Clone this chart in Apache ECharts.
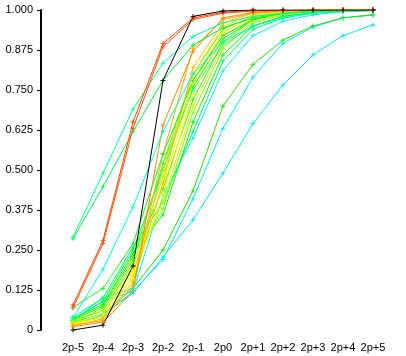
<!DOCTYPE html>
<html><head><meta charset="utf-8">
<script src="https://cdn.jsdelivr.net/npm/echarts@6/dist/echarts.min.js"></script>
<style>html,body{margin:0;padding:0;background:#fff}#c{width:406px;height:356px}</style>
</head><body><div id="c"></div>
<script>
const categories = ['2p-5','2p-4','2p-3','2p-2','2p-1','2p0','2p+1','2p+2','2p+3','2p+4','2p+5'];

const black  = [0.000, 0.015, 0.20, 0.78, 0.980, 0.997, 1.000, 1.000, 1.000, 1.000, 1.000];
const red1   = [0.078, 0.280, 0.65, 0.895, 0.975, 0.993, 0.998, 1.000, 1.000, 1.000, 1.000];
const red2   = [0.069, 0.270, 0.63, 0.885, 0.970, 0.990, 0.997, 0.999, 1.000, 1.000, 1.000];
const teal1  = [0.290, 0.490, 0.69, 0.834, 0.917, 0.960, 0.980, 0.990, 0.995, 0.998, 0.999];
const green1 = [0.285, 0.448, 0.62, 0.780, 0.890, 0.945, 0.975, 0.990, 0.995, 0.998, 0.999];
const cyan3  = [0.038, 0.190, 0.385, 0.620, 0.800, 0.900, 0.950, 0.975, 0.990, 0.995, 0.998];
const green3 = [0.070, 0.130, 0.27, 0.550, 0.780, 0.920, 0.970, 0.990, 0.996, 0.999, 1.000];
const b1  = [0.010, 0.025, 0.12, 0.64, 0.87, 0.975, 0.993, 0.998, 1, 1, 1];
const b2  = [0.015, 0.030, 0.14, 0.55, 0.88, 0.970, 0.990, 0.997, 0.999, 1, 1];
const b3  = [0.012, 0.035, 0.15, 0.46, 0.82, 0.960, 0.990, 0.997, 0.999, 1, 1];
const b4  = [0.020, 0.040, 0.17, 0.50, 0.80, 0.950, 0.985, 0.995, 0.998, 1, 1];
const b5  = [0.015, 0.040, 0.16, 0.42, 0.74, 0.920, 0.975, 0.990, 0.997, 0.999, 1];
const b6  = [0.020, 0.050, 0.18, 0.45, 0.77, 0.930, 0.980, 0.993, 0.998, 1, 1];
const b7  = [0.020, 0.050, 0.19, 0.40, 0.70, 0.890, 0.965, 0.988, 0.996, 0.999, 1];
const b8  = [0.025, 0.060, 0.20, 0.48, 0.78, 0.930, 0.980, 0.994, 0.998, 1, 1];
const b9  = [0.030, 0.060, 0.21, 0.38, 0.68, 0.880, 0.960, 0.985, 0.995, 0.998, 1];
const b10 = [0.020, 0.070, 0.22, 0.52, 0.80, 0.940, 0.980, 0.994, 0.998, 1, 1];
const b11 = [0.030, 0.075, 0.23, 0.44, 0.72, 0.900, 0.970, 0.990, 0.997, 0.999, 1];
const b12 = [0.035, 0.080, 0.24, 0.36, 0.65, 0.860, 0.950, 0.980, 0.993, 0.998, 1];
const b13 = [0.030, 0.090, 0.25, 0.50, 0.76, 0.910, 0.970, 0.990, 0.997, 0.999, 1];
const b14 = [0.040, 0.100, 0.26, 0.40, 0.62, 0.840, 0.940, 0.975, 0.990, 0.996, 0.999];
const b15 = [0.030, 0.100, 0.13, 0.52, 0.75, 0.890, 0.950, 0.980, 0.990, 0.996, 0.999];
const b16 = [0.035, 0.090, 0.12, 0.42, 0.60, 0.810, 0.920, 0.965, 0.985, 0.995, 0.998];
const green2 = [0.020, 0.050, 0.13, 0.25, 0.435, 0.700, 0.830, 0.906, 0.950, 0.976, 0.985];
const cyan2  = [0.020, 0.045, 0.12, 0.22, 0.410, 0.630, 0.790, 0.896, 0.947, 0.975, 0.984];
const cyan1  = [0.025, 0.050, 0.115, 0.228, 0.344, 0.490, 0.645, 0.766, 0.860, 0.920, 0.953];

const seriesList = [
  [cyan1,'#00e0ff'],[cyan2,'#00e8ff'],[green2,'#20e000'],[b16,'#00eeff'],[b15,'#00ffcc'],
  [b14,'#00ff66'],[b13,'#00ff33'],[b12,'#00ff00'],[b11,'#33ff00'],[b10,'#55ff00'],
  [b9,'#88ff00'],[b8,'#aaff00'],[b7,'#ccff00'],[b6,'#eeff00'],[b5,'#ffff00'],
  [b4,'#ffdd00'],[b3,'#ffbb00'],[b2,'#ffaa00'],[b1,'#ff8800'],
  [green3,'#22ee22'],[cyan3,'#00ffcc'],[green1,'#00ee44'],[teal1,'#00ff99'],
  [red2,'#ff5500'],[red1,'#ff4400'],[black,'#000000']
];

const plus = 'path://M-0.5,-3H0.5V-0.5H3V0.5H0.5V3H-0.5V0.5H-3V-0.5H-0.5Z';

const chart = echarts.init(document.getElementById('c'), null, {renderer:'canvas'});
chart.setOption({
  animation:false,
  backgroundColor:'#fff',
  grid:{left:73,right:33,top:10,bottom:26,containLabel:false},
  xAxis:{type:'category',data:categories,boundaryGap:false,
    axisLine:{show:false},axisTick:{show:false},splitLine:{show:false},
    axisLabel:{color:'#000',fontFamily:'Liberation Sans',fontSize:11,margin:12,interval:0}},
  yAxis:{type:'value',min:0,max:1,interval:0.125,offset:32,
    axisLine:{show:true,lineStyle:{color:'#000',width:2}},
    axisTick:{show:true,length:4,lineStyle:{color:'#000'}},
    splitLine:{show:false},
    axisLabel:{color:'#000',fontFamily:'Liberation Sans',fontSize:11,margin:8,
      formatter:v=>v===0?'0':v.toFixed(3)}},
  series:seriesList.map(([d,c])=>({type:'line',data:d,symbol:plus,symbolSize:5,
    showSymbol:true,lineStyle:{width:1,color:c},itemStyle:{color:c},z:2}))
});
</script></body></html>
